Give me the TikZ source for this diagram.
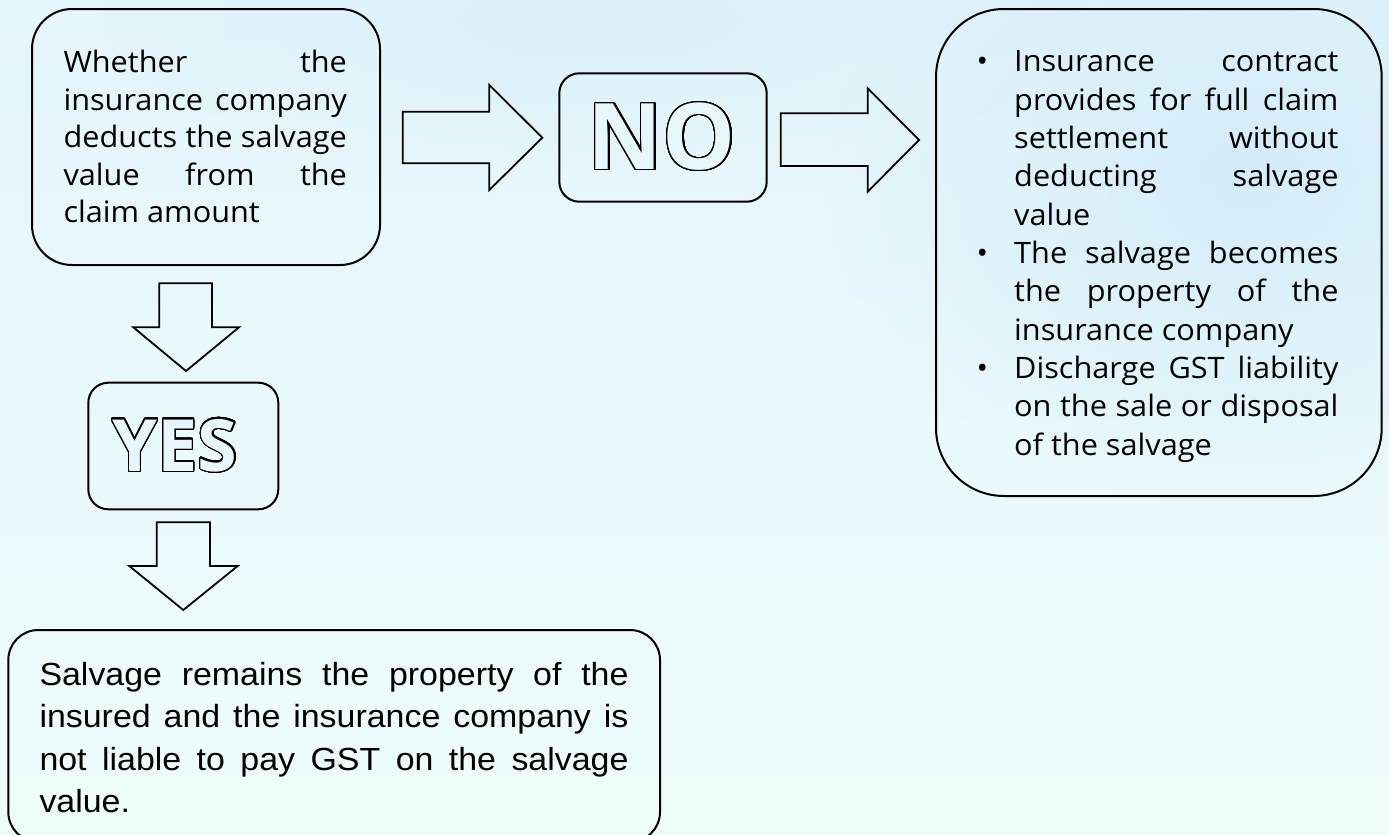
\documentclass[tikz,border=0pt]{standalone}
\usepackage{fontspec}
\usepackage{contour}
\usetikzlibrary{fadings}
\contourlength{1.3pt}
\contournumber{48}
\newfontfamily\segoe{Open Sans}[FakeStretch=1.04]
\newfontfamily\arialx{Liberation Sans}[FakeStretch=1.06]
\newfontfamily\bigfont{Open Sans}
\definecolor{bgtop}{RGB}{228,245,251}
\definecolor{bgbot}{RGB}{239,252,252}
\definecolor{blobcol}{RGB}{205,233,248}
\definecolor{letterfill}{RGB}{232,247,251}
\tikzfading[name=softblob, inner color=transparent!30, outer color=transparent!100]
\newcommand\jl[1]{\makebox[\linewidth][s]{#1}}
\newcommand\bul{\leavevmode\llap{\textbullet\hspace{26pt}}}
\tikzset{
  boxst/.style={draw=black, line width=2pt, inner sep=0pt},
  barrow/.style={draw=black, line width=1.8pt, line join=miter},
  txt/.style={anchor=base west, inner sep=0pt}
}
\begin{document}
\begin{tikzpicture}[x=1pt,y=-1pt]
\useasboundingbox (0,0) rectangle (1389,835);
\fill[top color=bgtop, bottom color=bgbot] (0,0) rectangle (1389,835);
\begin{scope}
\clip (0,0) rectangle (1389,835);
\fill[blobcol, path fading=softblob] (1250,180) ellipse (420 and 330);
\fill[blobcol, path fading=softblob, opacity=0.5] (600,20) ellipse (500 and 150);
\end{scope}

% boxes
\node[boxst, rounded corners=40pt, minimum width=348pt, minimum height=256pt] (q) at (206,137) {};
\node[boxst, rounded corners=20pt, minimum width=207.4pt, minimum height=128.4pt] (no) at (663,137.5) {};
\node[boxst, rounded corners=20pt, minimum width=190pt, minimum height=126.6pt] (yes) at (183.3,446) {};
\node[boxst, rounded corners=68pt, minimum width=445.7pt, minimum height=487pt] (res) at (1158.85,252.5) {};
\node[boxst, rounded corners=30pt, minimum width=651.7pt, minimum height=212pt] (out) at (334.15,736) {};

% block arrows
\draw[barrow] (402.7,111.7) -- (489.3,111.7) -- (489.3,85) -- (542.3,137.7) -- (489.3,190) -- (489.3,163.3) -- (402.7,163.3) -- cycle;
\draw[barrow] (780.7,113.3) -- (867.7,113.3) -- (867.7,88.3) -- (919,140) -- (867.7,191.7) -- (867.7,166) -- (780.7,166) -- cycle;
\draw[barrow] (159.3,283.3) -- (212,283.3) -- (212,327.3) -- (239,327.3) -- (186,371) -- (133.3,327.3) -- (159.3,327.3) -- cycle;
\draw[barrow] (156.7,522.3) -- (210,522.3) -- (210,566) -- (237.7,566) -- (183.3,610) -- (129.3,566) -- (156.7,566) -- cycle;

% texts
\node[txt] (qt) at (63.3,72.7) {\parbox[t]{283.4pt}{\segoe\fontsize{29.5}{37.5}\selectfont
\jl{Whether the}\\
\jl{insurance company}\\
\jl{deducts the salvage}\\
\jl{value from the}\\
claim amount}};

\node[anchor=base, inner sep=0pt] (not) at (662,169.5) {\bigfont\bfseries\fontsize{92}{92}\selectfont\contour{black}{\textcolor{letterfill}{NO}}};
\node[anchor=base, inner sep=0pt] (yest) at (175,471) {\bigfont\bfseries\fontsize{72}{72}\selectfont\contour{black}{\textcolor{letterfill}{YES}}};

\node[txt] (rt) at (1014,71.7) {\parbox[t]{324.3pt}{\segoe\fontsize{29.5}{38.33}\selectfont
\bul\jl{Insurance contract}\\
\jl{provides for full claim}\\
\jl{settlement without}\\
\jl{deducting salvage}\\
value\\
\bul\jl{The salvage becomes}\\
\jl{the property of the}\\
insurance company\\
\bul\jl{Discharge GST liability}\\
\jl{on the sale or disposal}\\
of the salvage}};

\node[txt] (ot) at (39.3,685) {\parbox[t]{589pt}{\arialx\fontsize{32}{42.5}\selectfont
\jl{Salvage remains the property of the}\\
\jl{insured and the insurance company is}\\
\jl{not liable to pay GST on the salvage}\\
value.}};
\end{tikzpicture}
\end{document}
